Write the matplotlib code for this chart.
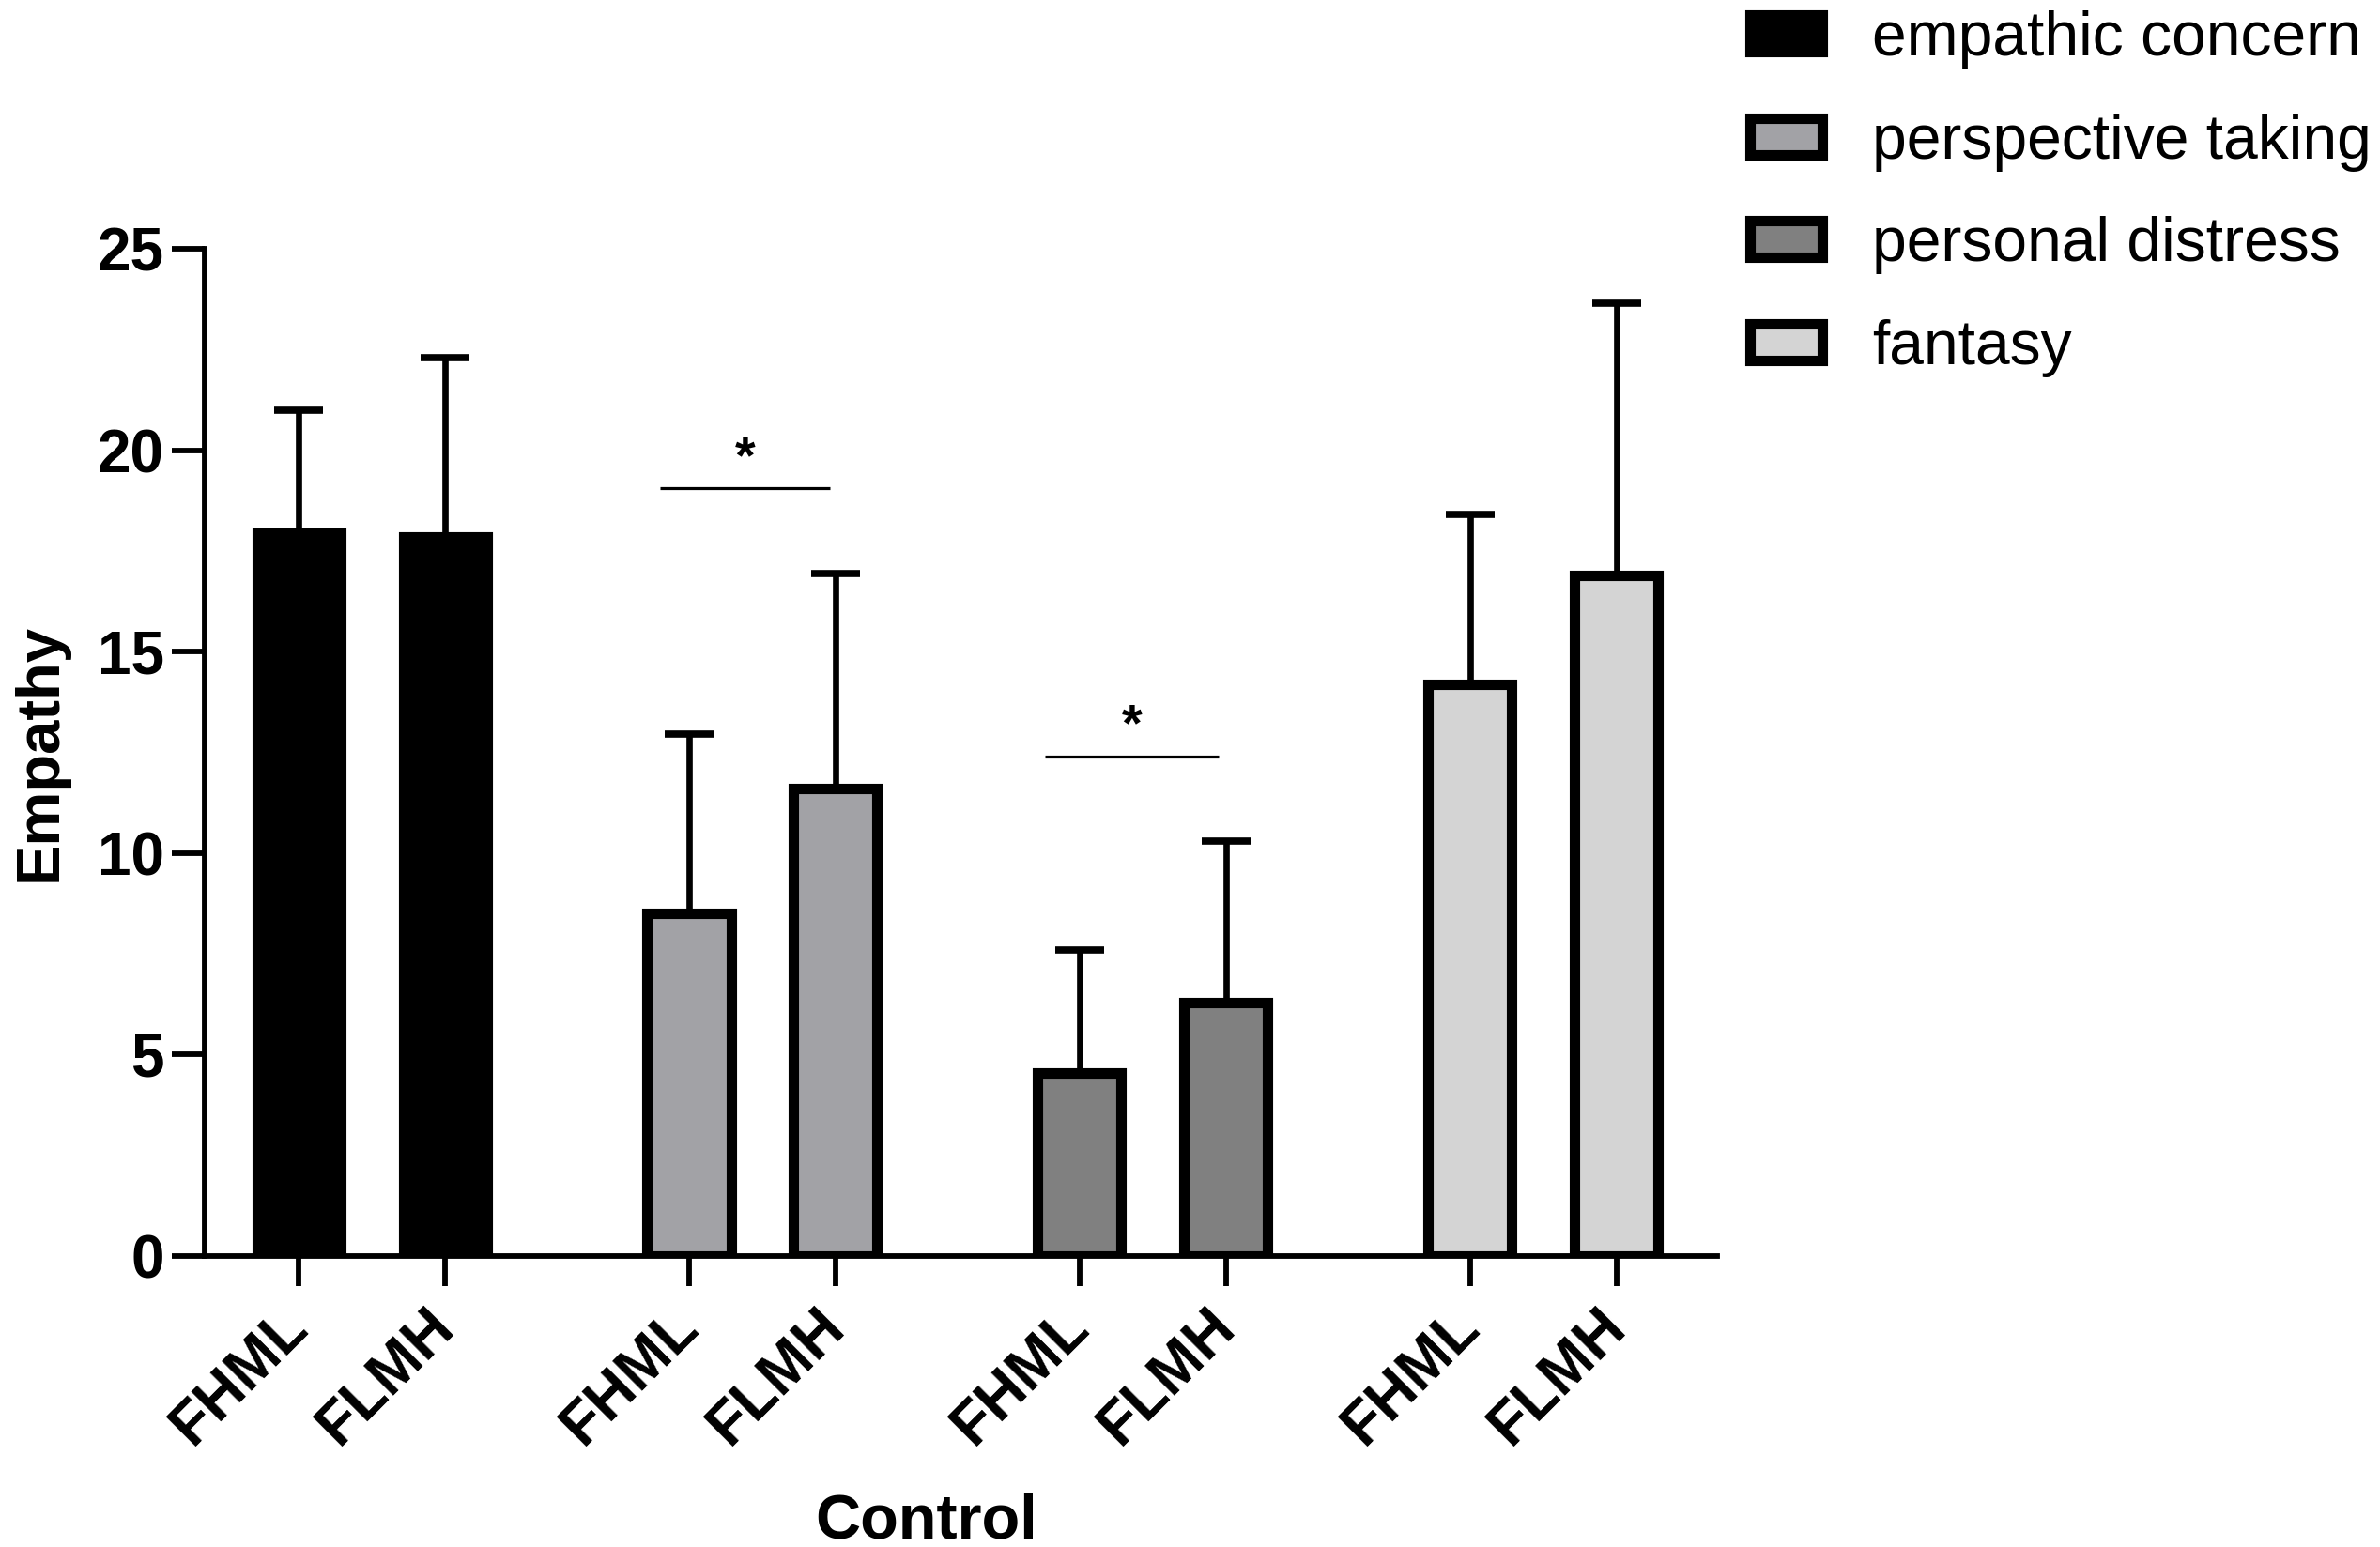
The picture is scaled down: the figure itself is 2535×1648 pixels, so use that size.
import matplotlib
matplotlib.use('Agg')
import matplotlib.pyplot as plt
import numpy as np
from matplotlib.patches import Patch

plt.rcParams['font.family'] = ['Liberation Sans', 'DejaVu Sans']

# ---- data ----
subscales = ['empathic concern', 'perspective taking', 'personal distress', 'fantasy']
groups = ['FHML', 'FLMH']
means_fhml = [17.95, 8.5, 4.55, 14.2]
means_flmh = [17.85, 11.6, 6.3, 16.9]
sd_fhml = [3.05, 4.45, 3.05, 4.2]
sd_flmh = [4.45, 5.35, 4.0, 6.75]
colors = ['#000000', '#a2a2a6', '#808080', '#d4d4d4']
sig_start = [0.739, 1.724]
sig_end = [1.172, 2.168]
sig_height = [19.06, 12.40]
sig_text = ['*', '*']
x_title = 'Control'
y_title = 'Empathy'
y_ticks = [0, 5, 10, 15, 20, 25]

# ---- figure ----
fig = plt.figure(figsize=(25.35, 16.48), dpi=100)
ax = fig.add_axes([0.0860, 0.1881, 0.7215 - 0.0860, 0.8392 - 0.1881])

offset = 0.1875
width = 0.214
edge_lw = 8
centers = np.arange(len(subscales))
xpos, heights, errs, fcols, labels = [], [], [], [], []
for i in range(len(subscales)):
    for j, (m, s) in enumerate([(means_fhml[i], sd_fhml[i]), (means_flmh[i], sd_flmh[i])]):
        xpos.append(centers[i] + (-offset if j == 0 else offset))
        heights.append(m)
        errs.append(s)
        fcols.append(colors[i])
        labels.append(groups[j])

ax.errorbar(xpos, heights, yerr=[np.zeros(len(errs)), errs], fmt='none',
            ecolor='black', elinewidth=4.8, capsize=18.5, capthick=5.5, zorder=2)
ax.bar(xpos, heights, width=width, color=fcols, edgecolor='black',
       linewidth=edge_lw, zorder=3)

for x0, x1, h, t in zip(sig_start, sig_end, sig_height, sig_text):
    ax.plot([x0, x1], [h, h], color='black', lw=2.3, solid_capstyle='butt')
    ax.text((x0 + x1) / 2, h + 0.4, t, ha='center', va='baseline',
            fontsize=40, fontweight='bold')

ax.set_xlim(-0.428, 3.445)
ax.set_ylim(0, 25)
ax.set_yticks(y_ticks)
ax.set_yticklabels([str(v) for v in y_ticks], fontsize=46, fontweight='bold')
ax.set_xticks(xpos)
ax.set_xticklabels(labels, fontsize=46, fontweight='bold', rotation=45,
                   ha='right', va='center', rotation_mode='anchor')

for sp in ['top', 'right']:
    ax.spines[sp].set_visible(False)
for sp in ['left', 'bottom']:
    ax.spines[sp].set_linewidth(4.2)
ax.tick_params(axis='y', length=25, width=4.2, pad=6)
ax.tick_params(axis='x', length=23, width=4.2, pad=24)

ax.set_ylabel(y_title, fontsize=47, fontweight='bold')
ax.yaxis.set_label_coords(-0.09, 0.5)
ax.set_xlabel(x_title, fontsize=48, fontweight='bold')
ax.xaxis.set_label_coords(0.477, -0.235)

handles = [Patch(facecolor=c, edgecolor='black', linewidth=edge_lw) for c in colors]
fig.legend(handles, subscales, loc='upper left', bbox_to_anchor=(0.7353, 0.9933),
           frameon=False, fontsize=47.5, handlelength=1.17, handleheight=0.54,
           handletextpad=0.8, labelspacing=0.72, borderpad=0.0, borderaxespad=0.0)

fig.savefig('out.png', dpi=100)
